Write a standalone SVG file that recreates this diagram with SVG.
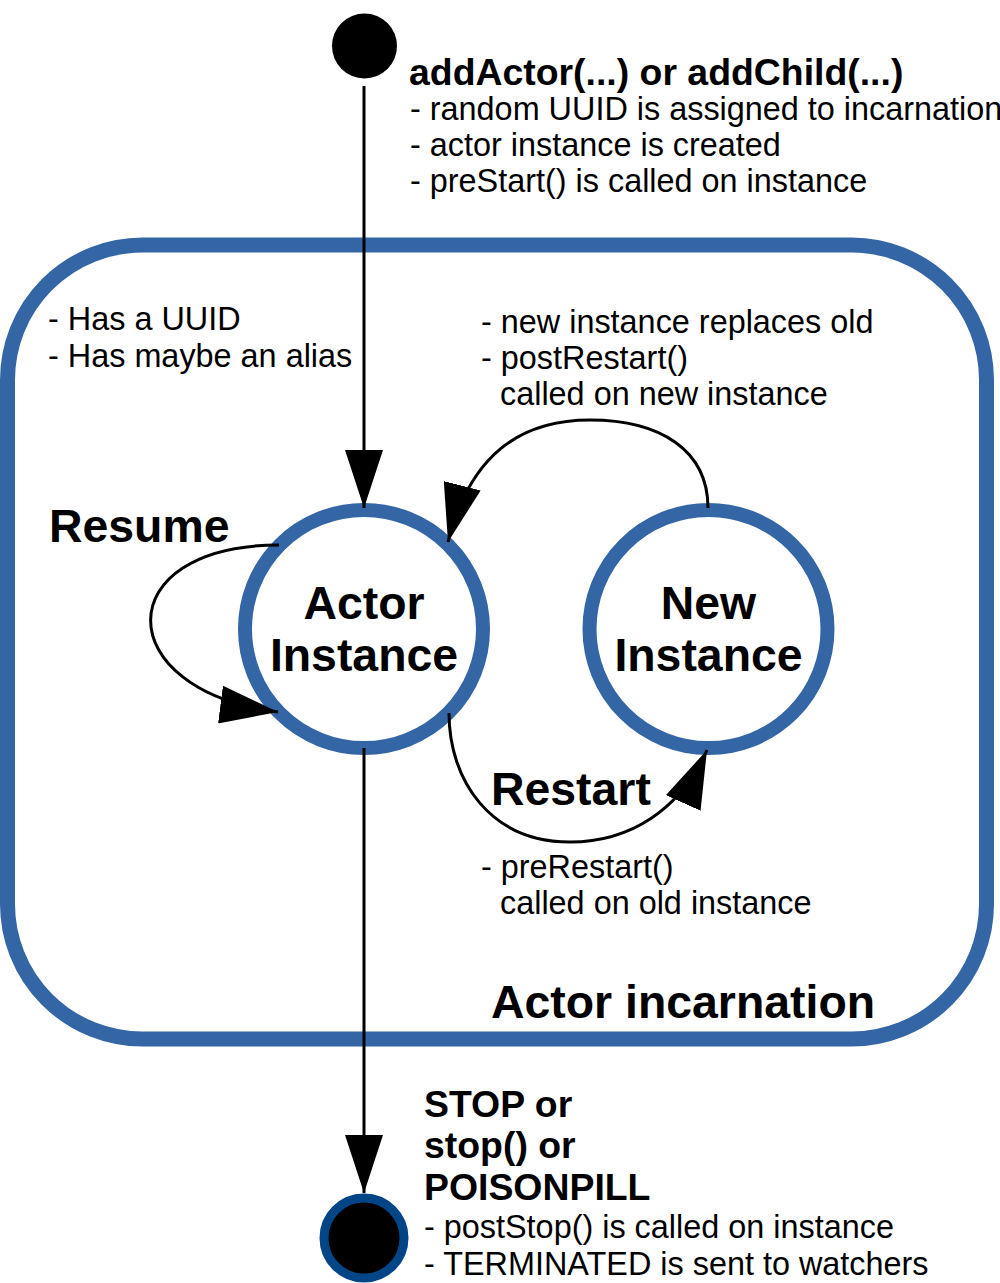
<svg xmlns="http://www.w3.org/2000/svg" width="1000" height="1283" viewBox="0 0 1000 1283">
<style>
.t{font-family:"Liberation Sans",Arial,sans-serif;font-size:32.4px;fill:#000}
.b{font-family:"Liberation Sans",Arial,sans-serif;font-weight:bold;fill:#000}
.h{font-size:46.4px}
.m{font-size:37.4px}
.state{fill:#fff;stroke:#3465a4;stroke-width:14}
.conn{fill:none;stroke:#000;stroke-width:3}
</style>
<defs>
<marker id="arr" viewBox="0 0 58 38" refX="58" refY="19" markerWidth="58" markerHeight="38" markerUnits="userSpaceOnUse" orient="auto">
<path d="M0,0 L58,19 L0,38 z" fill="#000"/>
</marker>
</defs>
<rect width="1000" height="1283" fill="#fff"/>
<g id="incarnation">
<rect x="7.5" y="245" width="979" height="794" rx="135" ry="135" fill="none" stroke="#3465a4" stroke-width="15"/>
<text class="b h" x="491" y="1018">Actor incarnation</text>
<text class="t" x="48" y="330">- Has a UUID</text>
<text class="t" x="48" y="367">- Has maybe an alias</text>
</g>
<g id="start">
<circle cx="364.5" cy="46" r="32.5" fill="#000"/>
</g>
<g id="actor">
<circle class="state" cx="364" cy="629" r="119"/>
<text class="b h" x="364" y="619" text-anchor="middle">Actor</text>
<text class="b h" x="364" y="671" text-anchor="middle">Instance</text>
</g>
<g id="new">
<circle class="state" cx="708.5" cy="629" r="119"/>
<text class="b h" x="708.5" y="619" text-anchor="middle">New</text>
<text class="b h" x="708.5" y="671" text-anchor="middle">Instance</text>
</g>
<g id="end">
<circle cx="364" cy="1238" r="40" fill="#000" stroke="#004586" stroke-width="9"/>
</g>
<g id="connectors">
<path class="conn" d="M364,86 L364,508" marker-end="url(#arr)"/>
<path class="conn" d="M279,545 C108,545 108,690 278,712" marker-end="url(#arr)"/>
<path class="conn" d="M708,508 C708,450 660,420 590,420 C520,420 470,455 448,542" marker-end="url(#arr)"/>
<path class="conn" d="M449,713 C449,780 490,842 570,842 C630,842 680,810 707,750" marker-end="url(#arr)"/>
<path class="conn" d="M364,748 L364,1193" marker-end="url(#arr)"/>
</g>
<g id="labels">
<text class="b m" x="409" y="85">addActor(...) or addChild(...)</text>
<text class="t" x="410" y="120">- random UUID is assigned to incarnation</text>
<text class="t" x="410" y="156">- actor instance is created</text>
<text class="t" x="410" y="192">- preStart() is called on instance</text>
<text class="b h" x="49" y="542">Resume</text>
<text class="t" x="481" y="333">- new instance replaces old</text>
<text class="t" x="481" y="369">- postRestart()</text>
<text class="t" x="500" y="405">called on new instance</text>
<text class="b h" x="491" y="805">Restart</text>
<text class="t" x="481" y="878">- preRestart()</text>
<text class="t" x="500" y="914">called on old instance</text>
<text class="b m" x="424" y="1117">STOP or</text>
<text class="b m" x="424" y="1158">stop() or</text>
<text class="b m" x="424" y="1200">POISONPILL</text>
<text class="t" x="424" y="1238">- postStop() is called on instance</text>
<text class="t" x="424" y="1275">- TERMINATED is sent to watchers</text>
</g>
</svg>
